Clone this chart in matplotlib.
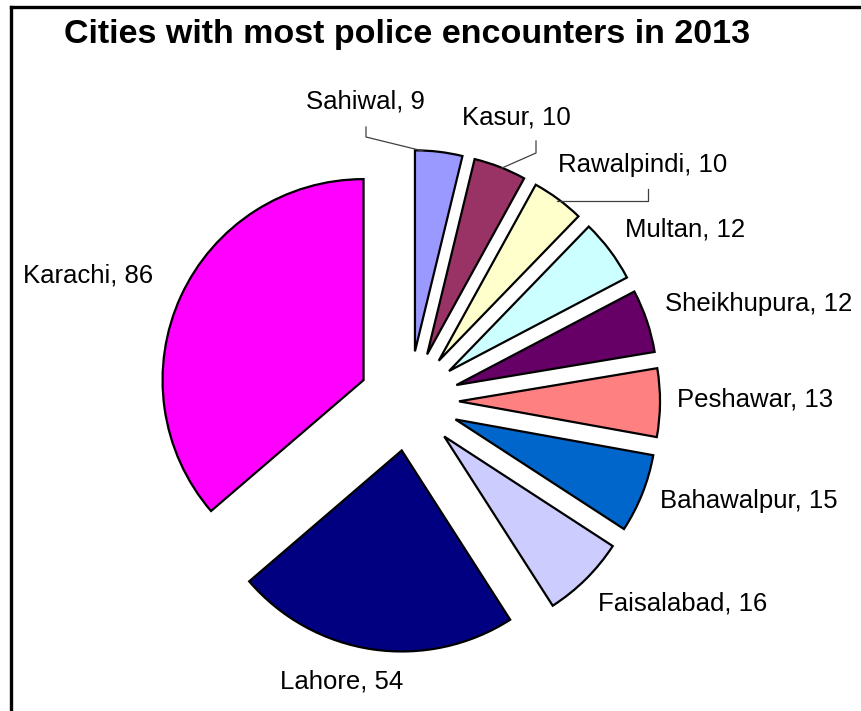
import matplotlib
matplotlib.use("Agg")
from matplotlib import pyplot as plt

W, H = 861, 711

cities = ['Sahiwal', 'Kasur', 'Rawalpindi', 'Multan', 'Sheikhupura',
          'Peshawar', 'Bahawalpur', 'Faisalabad', 'Lahore', 'Karachi']
encounters = [9, 10, 10, 12, 12, 13, 15, 16, 54, 86]
colors = ['#9999FF', '#993366', '#FFFFCC', '#CCFFFF', '#660066',
          '#FF8080', '#0066CC', '#CCCCFF', '#000080', '#FF00FF']

# label anchors in pixels (from top-left) and horizontal alignment
label_pos = [(365, 101), (516, 118), (558, 165), (625, 230), (665, 304),
             (677, 399), (660, 501), (598, 604), (342, 682), (88, 276)]
label_ha = ['center', 'center', 'left', 'left', 'left',
            'left', 'left', 'left', 'center', 'center']
leaders = {
    'Sahiwal': [(366, 127), (366, 137), (423, 151)],
    'Kasur': [(536, 141), (536, 153), (502, 168)],
    'Rawalpindi': [(648, 189), (648, 201), (557, 201)],
}


def px(x, y):
    return x, H - y


plt.rcParams['font.family'] = ['Liberation Sans', 'DejaVu Sans']

fig = plt.figure(figsize=(W / 100, H / 100), dpi=100)
ax = fig.add_axes([0, 0, 1, 1])

# explode offset is in data units (pixels here)
ax.pie(encounters, colors=colors, startangle=90, counterclock=False,
       center=px(409, 401), radius=201, explode=[50] * len(encounters),
       wedgeprops=dict(edgecolor='black', linewidth=1.6))

ax.set_xlim(0, W)
ax.set_ylim(0, H)
ax.set_aspect('auto')
ax.axis('off')

for name, val, (x, y), ha in zip(cities, encounters, label_pos, label_ha):
    ax.text(*px(x, y), f'{name}, {val}', ha=ha, va='center',
            fontsize=18.5, color='black')

for name, pts in leaders.items():
    xs = [p[0] for p in pts]
    ys = [H - p[1] for p in pts]
    ax.plot(xs, ys, color='#404040', linewidth=0.9)

ax.text(*px(407, 35), 'Cities with most police encounters in 2013',
        ha='center', va='center', fontsize=24.5, fontweight='bold')

# chart frame (only top and left edges are inside the picture)
ax.plot([11, W], [H - 7, H - 7], color='black', linewidth=2.4)
ax.plot([11, 11], [0, H - 7], color='black', linewidth=2.4)

fig.savefig('out.png', dpi=100)
